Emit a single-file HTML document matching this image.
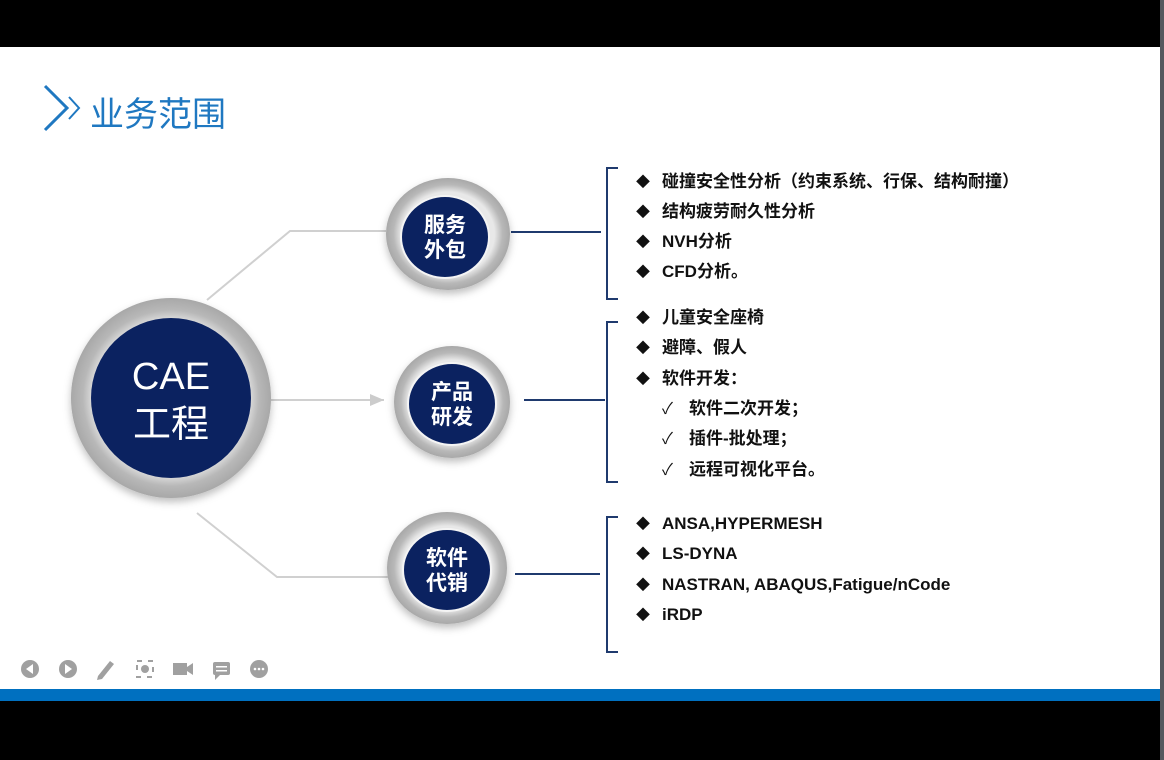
<!DOCTYPE html>
<html><head><meta charset="utf-8"><style>
html,body{margin:0;padding:0;background:#000;}
body{width:1164px;height:760px;position:relative;overflow:hidden;font-family:"Liberation Sans","Noto Sans CJK SC",sans-serif;}
</style></head><body>
<svg width="1164" height="760" xmlns="http://www.w3.org/2000/svg" style="position:absolute;left:0;top:0">
<defs>
<radialGradient id="ring" cx="50%" cy="50%" r="50%">
<stop offset="0.75" stop-color="#e8e8e8"/><stop offset="0.88" stop-color="#b8b8b8"/><stop offset="1" stop-color="#a8a8a8"/>
</radialGradient>
<filter id="sh" x="-20%" y="-20%" width="140%" height="150%"><feDropShadow dx="0" dy="4" stdDeviation="4" flood-color="#000" flood-opacity="0.25"/></filter>
<marker id="ar" markerWidth="8" markerHeight="8" refX="7" refY="4" orient="auto"><path d="M0,1 L7,4 L0,7 z" fill="#ccc"/></marker>
</defs>
<rect x="0" y="0" width="1164" height="760" fill="#000"/>
<rect x="0" y="47" width="1160" height="642" fill="#fff"/>
<rect x="0" y="689" width="1160" height="12" fill="#0070c0"/>
<rect x="1160" y="0" width="4" height="760" fill="#55585e"/>
<!-- title -->
<polyline points="45,86 67,108 45,130" fill="none" stroke="#1f78c1" stroke-width="3"/>
<polyline points="69,97 79,108 69,119" fill="none" stroke="#1f78c1" stroke-width="2"/>
<text x="90" y="126" font-size="34" fill="#1f78c1" font-family="'Noto Sans CJK SC',sans-serif">业务范围</text>
<!-- connectors -->
<g stroke="#d0d0d0" stroke-width="2" fill="none">
<polyline points="207,300 290,231 386,231"/>
<polyline points="197,513 277,577 388,577"/>
</g>
<line x1="271" y1="400" x2="384" y2="400" stroke="#d0d0d0" stroke-width="2" marker-end="url(#ar)"/>
<g stroke="#1f3a6e" stroke-width="2" fill="none">
<line x1="511" y1="232" x2="601" y2="232"/>
<line x1="524" y1="400" x2="605" y2="400"/>
<line x1="515" y1="574" x2="600" y2="574"/>
<polyline points="618,168 607,168 607,299 618,299"/>
<polyline points="618,322 607,322 607,482 618,482"/>
<polyline points="618,517 607,517 607,652 618,652"/>
</g>
<!-- circles -->
<g filter="url(#sh)">
<circle cx="171" cy="398" r="100" fill="url(#ring)"/>
<ellipse cx="448" cy="234" rx="62" ry="56" fill="url(#ring)"/>
<ellipse cx="452" cy="402" rx="58" ry="56" fill="url(#ring)"/>
<ellipse cx="447" cy="568" rx="60" ry="56" fill="url(#ring)"/>
</g>
<circle cx="171" cy="398" r="80" fill="#0b2260"/>
<ellipse cx="445" cy="237" rx="44" ry="41" fill="#0b2260" stroke="#f4f4f4" stroke-width="2"/>
<ellipse cx="452" cy="404" rx="44" ry="41" fill="#0b2260" stroke="#f4f4f4" stroke-width="2"/>
<ellipse cx="447" cy="570" rx="44" ry="41" fill="#0b2260" stroke="#f4f4f4" stroke-width="2"/>
<g fill="#fff" text-anchor="middle" font-family="'Liberation Sans','Noto Sans CJK SC',sans-serif">
<text x="171" y="389" font-size="38">CAE</text>
<text x="171" y="437" font-size="38" font-family="'Noto Sans CJK SC',sans-serif">工程</text>
<g font-size="21" font-weight="bold" font-family="'Noto Sans CJK SC',sans-serif">
<text x="445" y="232">服务</text><text x="445" y="257">外包</text>
<text x="452" y="399">产品</text><text x="452" y="424">研发</text>
<text x="447" y="565">软件</text><text x="447" y="590">代销</text>
</g></g>
<!-- list -->
<g font-size="17" font-weight="bold" fill="#111" font-family="'Liberation Sans','Noto Sans CJK SC',sans-serif">
<g font-size="14"><text x="636" y="187">◆</text><text x="636" y="217">◆</text><text x="636" y="247">◆</text><text x="636" y="277">◆</text>
<text x="636" y="323">◆</text><text x="636" y="353">◆</text><text x="636" y="384">◆</text>
<text x="636" y="529">◆</text><text x="636" y="559">◆</text><text x="636" y="590">◆</text><text x="636" y="620">◆</text></g>
<g font-weight="normal" font-size="16"><text x="662" y="414">✓</text><text x="662" y="444">✓</text><text x="662" y="475">✓</text></g>
<text x="662" y="187">碰撞安全性分析（约束系统、行保、结构耐撞）</text>
<text x="662" y="217">结构疲劳耐久性分析</text>
<text x="662" y="247">NVH分析</text>
<text x="662" y="277">CFD分析。</text>
<text x="662" y="323">儿童安全座椅</text>
<text x="662" y="353">避障、假人</text>
<text x="662" y="384">软件开发：</text>
<text x="689" y="414">软件二次开发；</text>
<text x="689" y="444">插件-批处理；</text>
<text x="689" y="475">远程可视化平台。</text>
<text x="662" y="529">ANSA,HYPERMESH</text>
<text x="662" y="559">LS-DYNA</text>
<text x="662" y="590">NASTRAN, ABAQUS,Fatigue/nCode</text>
<text x="662" y="620">iRDP</text>
</g>
<!-- toolbar -->
<g fill="#a0a0a0">
<circle cx="30" cy="669" r="9"/><circle cx="68" cy="669" r="9"/>
<path d="M98,676 L110,661 L114,664 L102,679 L97,680z"/>
<rect x="137" y="661" width="16" height="16" fill="none" stroke="#a0a0a0" stroke-width="2" stroke-dasharray="5 6"/><circle cx="145" cy="669" r="4"/>
<rect x="173" y="663" width="14" height="12"/><path d="M187,667 L193,663 L193,675 L187,671z"/>
<rect x="213" y="662" width="17" height="13" rx="2"/><path d="M215,675 L215,680 L220,675z"/>
<circle cx="259" cy="669" r="9"/>
</g>
<g fill="#fff"><path d="M33,664 L26,669 L33,674z"/><path d="M65,664 L72,669 L65,674z"/>
<rect x="216" y="666" width="11" height="1.5"/><rect x="216" y="670" width="11" height="1.5"/>
<circle cx="255" cy="669" r="1.3"/><circle cx="259" cy="669" r="1.3"/><circle cx="263" cy="669" r="1.3"/></g>
</svg>
</body></html>
